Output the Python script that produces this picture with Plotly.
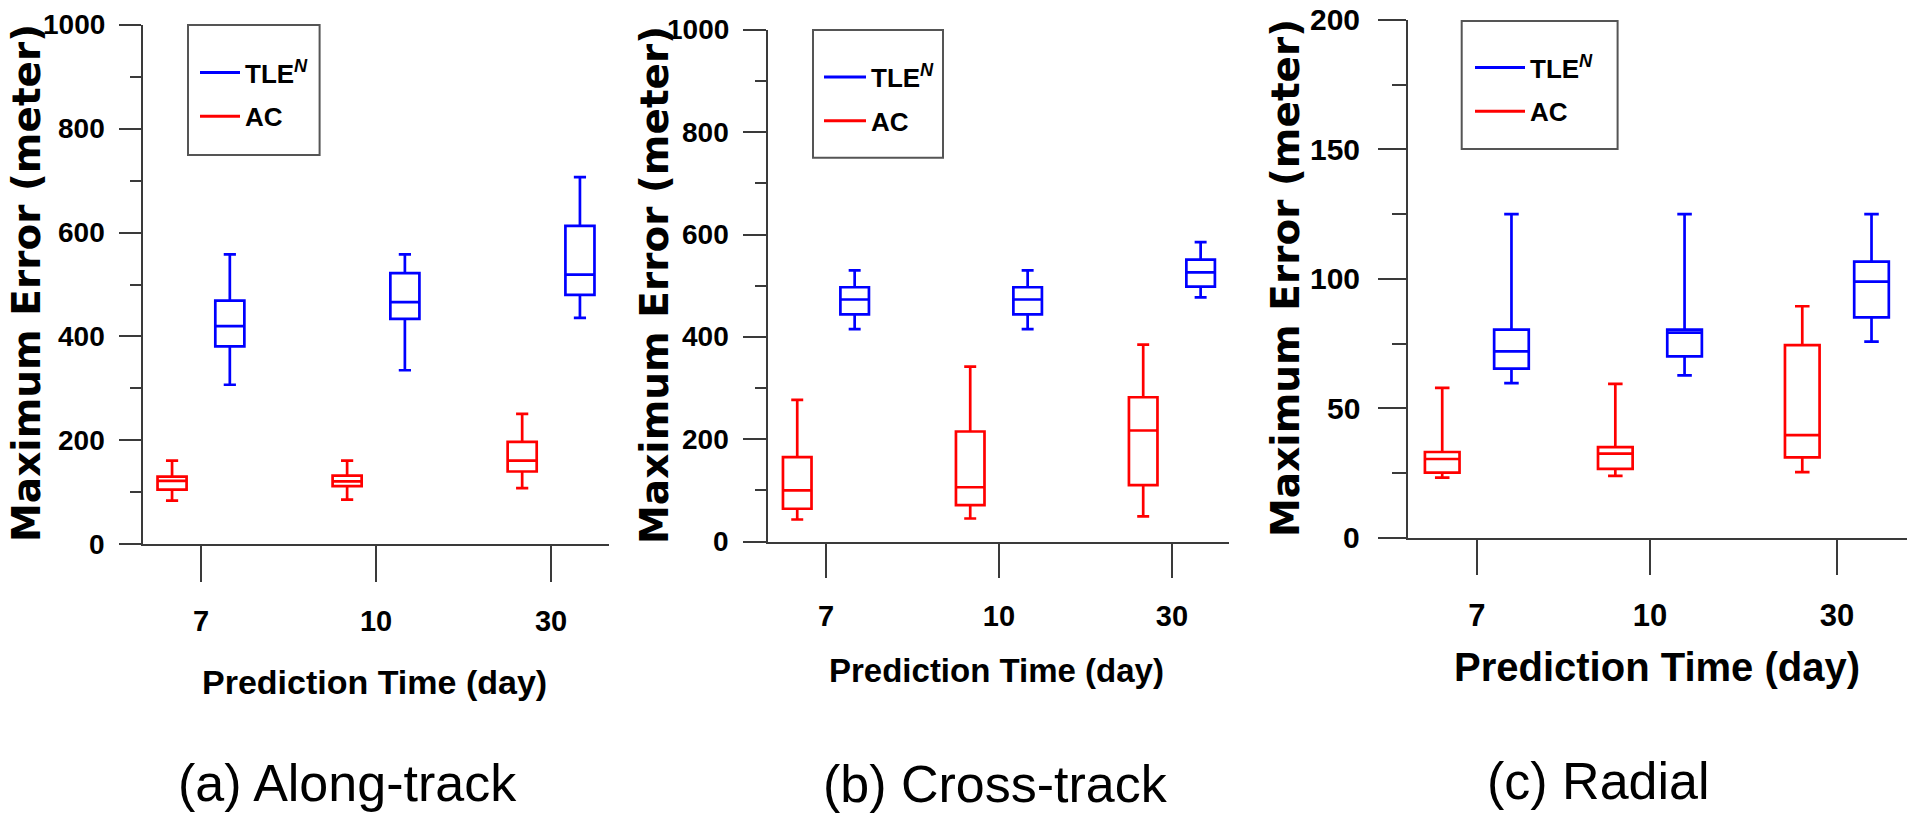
import plotly.graph_objects as go

W, H = 1912, 815

# ---------------- data ----------------
categories = ["7", "10", "30"]
error_ticks_m = [0, 200, 400, 600, 800, 1000]     # along/cross-track y tick labels
radial_ticks_m = [0, 50, 100, 150, 200]           # radial y tick labels

# (a) Along-track
along_ac_low = [84, 86, 108]
along_ac_q1 = [105, 112, 140]
along_ac_med = [122, 121, 161]
along_ac_q3 = [130, 132, 197]
along_ac_high = [161, 161, 251]
along_tle_low = [307, 335, 436]
along_tle_q1 = [381, 434, 480]
along_tle_med = [420, 466, 519]
along_tle_q3 = [469, 522, 613]
along_tle_high = [558, 558, 707]

# (b) Cross-track
cross_ac_low = [43, 45, 49]
cross_ac_q1 = [64, 71, 110]
cross_ac_med = [100, 106, 217]
cross_ac_q3 = [165, 215, 282]
cross_ac_high = [277, 342, 385]
cross_tle_low = [415, 415, 477]
cross_tle_q1 = [444, 444, 498]
cross_tle_med = [473, 473, 526]
cross_tle_q3 = [497, 497, 551]
cross_tle_high = [530, 530, 585]

# (c) Radial
radial_ac_low = [23.2, 23.9, 25.3]
radial_ac_q1 = [25.1, 26.6, 31.0]
radial_ac_med = [30.4, 32.5, 39.6]
radial_ac_q3 = [33.1, 35.0, 74.4]
radial_ac_high = [57.9, 59.4, 89.4]
radial_tle_low = [59.7, 62.7, 75.7]
radial_tle_q1 = [65.3, 70.0, 85.1]
radial_tle_med = [72.0, 79.2, 98.9]
radial_tle_q3 = [80.4, 80.4, 106.6]
radial_tle_high = [125, 125, 125]

series_names = ["TLE<sup><i>N</i></sup>", "AC"]
captions = ["(a) Along-track", "(b) Cross-track", "(c) Radial"]
y_title = "Maximum Error (meter)"
x_title = "Prediction Time (day)"

# ---------------- styles ----------------
BLUE = "#0000ff"
RED = "#ff0000"
AXIS = "#3a3a3a"
BOLDF = "Liberation Sans, Arial, sans-serif"
WIDE = "DejaVu Sans, Verdana, sans-serif"
REG = "Liberation Sans, Arial, sans-serif"


def fx(p):
    return p / W


def fy(p):
    return 1 - p / H


panels = [
    dict(ac=(along_ac_low, along_ac_q1, along_ac_med, along_ac_q3, along_ac_high),
         tle=(along_tle_low, along_tle_q1, along_tle_med, along_tle_q3, along_tle_high),
         yticks=error_ticks_m,
         pos=[0, 1, 2], xdom=(143, 609), ydom=(24.9, 544.2), xr=[-0.331, 2.331],
         yr=[0, 1000], minor=100, off=0.165, bw=0.166,
         yticklen=22, yminorlen=11, xticklen=36, ytick_size=28, xtick_size=29,
         ylab_right=107,
         ytitle=(26, 283), xtitle=(374.5, 682, 34), cap=(347, 783),
         leg=(195, 49, 40), frame=(188, 24.9, 319.6, 155)),
    dict(ac=(cross_ac_low, cross_ac_q1, cross_ac_med, cross_ac_q3, cross_ac_high),
         tle=(cross_tle_low, cross_tle_q1, cross_tle_med, cross_tle_q3, cross_tle_high),
         yticks=error_ticks_m,
         pos=[0, 1, 2], xdom=(768, 1229), ydom=(29.9, 541.5), xr=[-0.335, 2.33],
         yr=[0, 1000], minor=100, off=0.166, bw=0.165,
         yticklen=23, yminorlen=11, xticklen=34, ytick_size=28, xtick_size=29,
         ylab_right=731,
         ytitle=(654, 285), xtitle=(996, 670, 33), cap=(995, 784),
         leg=(819, 53.5, 42), frame=(813, 29.9, 943, 157.7)),
    dict(ac=(radial_ac_low, radial_ac_q1, radial_ac_med, radial_ac_q3, radial_ac_high),
         tle=(radial_tle_low, radial_tle_q1, radial_tle_med, radial_tle_q3, radial_tle_high),
         yticks=radial_ticks_m,
         pos=[0, 1, 2.08], xdom=(1407.6, 1907), ydom=(19.9, 537.7), xr=[-0.40, 2.485],
         yr=[0, 200], minor=25, off=0.2, bw=0.2,
         yticklen=28, yminorlen=14, xticklen=35, ytick_size=30, xtick_size=31,
         ylab_right=1362,
         ytitle=(1285, 278), xtitle=(1657, 667, 40), cap=(1598, 781),
         leg=(1470, 44, 50), frame=(1461.7, 21, 1617.6, 149)),
]

fig = go.Figure()
layout = dict(
    width=W, height=H, autosize=False,
    margin=dict(l=0, r=0, t=0, b=0, pad=0, autoexpand=False),
    paper_bgcolor="white", plot_bgcolor="white",
    showlegend=True, boxmode="overlay",
)
annotations = []
shapes = []

for i, p in enumerate(panels):
    sfx = "" if i == 0 else str(i + 1)
    xa, ya = "x" + sfx, "y" + sfx
    lg = "legend" + sfx

    for stats, color, off in ((p["ac"], RED, -p["off"]), (p["tle"], BLUE, p["off"])):
        low, q1, med, q3, high = stats
        fig.add_trace(go.Box(
            x=[c + off for c in p["pos"]],
            q1=q1, median=med, q3=q3, lowerfence=low, upperfence=high,
            width=p["bw"], whiskerwidth=0.42, boxpoints=False,
            line=dict(color=color, width=2.7), fillcolor="rgba(0,0,0,0)",
            showlegend=False, xaxis=xa, yaxis=ya,
        ))

    for name, color in zip(series_names, (BLUE, RED)):
        fig.add_trace(go.Scatter(
            x=[None], y=[None], mode="lines", name=name,
            line=dict(color=color, width=3), legend=lg, legendgroup=f"{i}{name}",
            xaxis=xa, yaxis=ya, hoverinfo="skip",
        ))

    layout["xaxis" + sfx] = dict(
        domain=[fx(p["xdom"][0]), fx(p["xdom"][1])], range=p["xr"], anchor=ya,
        tickmode="array", tickvals=p["pos"], ticktext=categories,
        ticks="outside", ticklen=p["xticklen"], tickwidth=2, tickcolor=AXIS,
        showline=True, linecolor=AXIS, linewidth=2, showgrid=False, zeroline=False,
        tickfont=dict(family=BOLDF, size=p["xtick_size"], color="black", weight="bold"),
        ticklabelstandoff=14, fixedrange=True, automargin=False,
    )
    layout["yaxis" + sfx] = dict(
        domain=[fy(p["ydom"][1]), fy(p["ydom"][0])], range=p["yr"], anchor=xa,
        tickmode="array", tickvals=p["yticks"], showticklabels=False,
        ticks="outside", ticklen=p["yticklen"], tickwidth=2,
        tickcolor=AXIS, showline=True, linecolor=AXIS, linewidth=2,
        showgrid=False, zeroline=False,
        minor=dict(dtick=p["minor"], tick0=0, ticks="outside", ticklen=p["yminorlen"],
                   tickwidth=2, tickcolor=AXIS, showgrid=False),
        fixedrange=True, automargin=False,
    )
    # y tick labels, placed in data coordinates of each y axis
    for v in p["yticks"]:
        annotations.append(dict(
            text=str(v), x=fx(p["ylab_right"]), y=v, xref="paper", yref=ya,
            xanchor="right", yanchor="middle", showarrow=False,
            font=dict(family=BOLDF, size=p["ytick_size"], color="black", weight="bold"),
        ))
    layout[lg] = dict(
        x=fx(p["leg"][0]), y=fy(p["leg"][1]), xanchor="left", yanchor="top",
        xref="paper", yref="paper", itemwidth=p["leg"][2],
        bgcolor="rgba(0,0,0,0)", borderwidth=0, tracegroupgap=7,
        font=dict(family=BOLDF, size=26, color="black", weight="bold"),
    )
    fx0, fy0, fx1, fy1 = p["frame"]
    shapes.append(dict(type="rect", xref="paper", yref="paper",
                       x0=fx(fx0), x1=fx(fx1), y0=fy(fy1), y1=fy(fy0),
                       line=dict(color="#555555", width=2)))

    annotations.append(dict(
        text=y_title, x=fx(p["ytitle"][0]), y=fy(p["ytitle"][1]), xref="paper", yref="paper",
        xanchor="center", yanchor="middle", textangle=-90, showarrow=False,
        font=dict(family=WIDE, size=39, color="black", weight="bold"),
    ))
    xs = p["xtitle"][2]
    annotations.append(dict(
        text=x_title, x=fx(p["xtitle"][0]), y=fy(p["xtitle"][1]),
        xref="paper", yref="paper",
        xanchor="center", yanchor="middle", showarrow=False,
        font=dict(family=BOLDF, size=xs, color="black", weight="bold"),
    ))
    annotations.append(dict(
        text=captions[i], x=fx(p["cap"][0]), y=fy(p["cap"][1]),
        xref="paper", yref="paper",
        xanchor="center", yanchor="middle", showarrow=False,
        font=dict(family=REG, size=52, color="black"),
    ))

layout["annotations"] = annotations
layout["shapes"] = shapes
fig.update_layout(**layout)

fig.write_html("out.html", config={"displayModeBar": False})
